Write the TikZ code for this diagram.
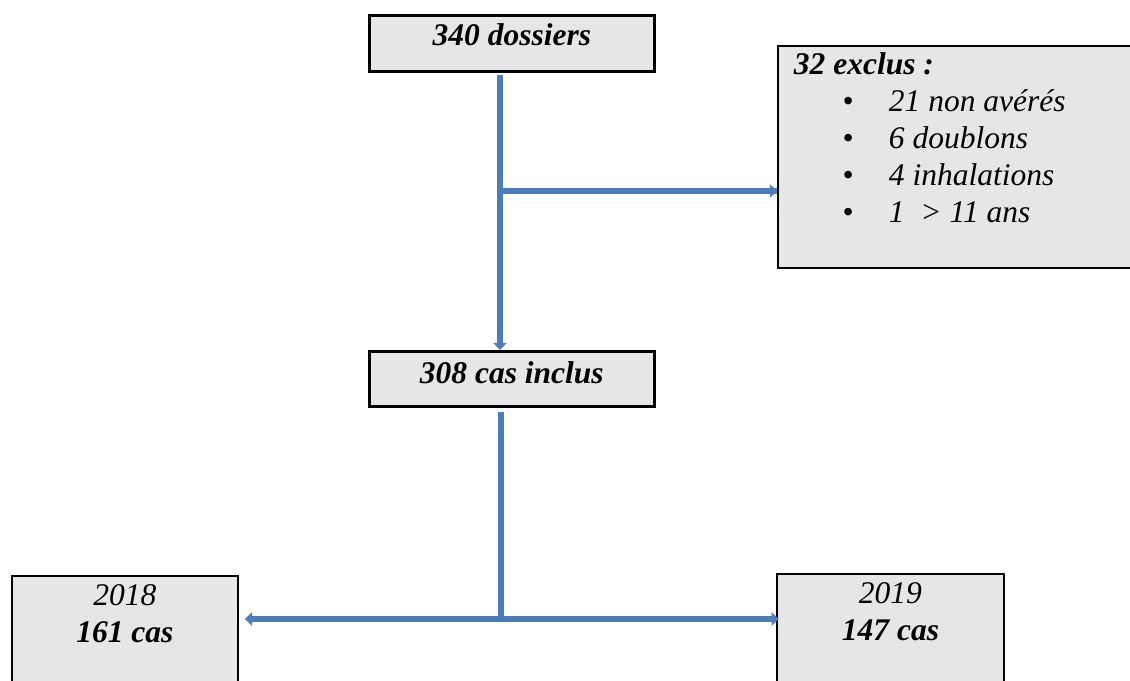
\documentclass[tikz,border=0pt]{standalone}
\usepackage{fontspec}
\setmainfont{Liberation Serif}
\usepackage{tikz}
\usetikzlibrary{arrows.meta, positioning}

\definecolor{flowblue}{RGB}{74,125,186}
\definecolor{boxgray}{RGB}{230,230,230}

\newcommand{\boxtext}[4]{\parbox[t][#1][t]{#2}{\rule{0pt}{#3}#4}}
\newcommand{\exclitem}[1]{\par\hspace*{1.61cm}\makebox[1.165cm][l]{\textbullet}#1}

\begin{document}
\begin{tikzpicture}[x=0.025cm, y=-0.025cm,
    box/.style={draw=black, fill=boxgray, line width=1.3pt, inner sep=0pt, anchor=north west,
      font=\fontsize{22.4pt}{26.2pt}\selectfont\itshape},
    mainbox/.style={box, line width=1.9pt},
    flow/.style={draw=flowblue, line width=0.17cm, -{Triangle[width=0.33cm, length=0.18cm]}}]
      \useasboundingbox (0,0) rectangle (1130,681);
      \node[mainbox] (dossiers) at (368,14)
        {\boxtext{1.4cm}{7.125cm}{0.75cm}{\centering\textbf{340 dossiers}}};
      \node[box] (exclus) at (777,45)
        {\boxtext{5.55cm}{8.95cm}{0.725cm}{\hspace*{0.4cm}\textbf{32 exclus :}
          \exclitem{21 non avérés}
          \exclitem{6 doublons}
          \exclitem{4 inhalations}
          \exclitem{1~~> 11 ans}}};
      \node[mainbox] (inclus) at (368,350)
        {\boxtext{1.375cm}{7.125cm}{0.8cm}{\centering\textbf{308 cas inclus}}};
      \node[box] (y2018) at (11,575)
        {\boxtext{3cm}{5.65cm}{0.75cm}{\centering 2018\\ \textbf{161 cas}}};
      \node[box] (y2019) at (776,573)
        {\boxtext{3cm}{5.675cm}{0.75cm}{\centering 2019\\ \textbf{147 cas}}};
      \coordinate (split1) at (500,191);
      \coordinate (split2) at (501,619);
      \draw[flow] ([yshift=-2pt]dossiers.south -| split1) -- (inclus.north -| split1);
      \draw[flow, -] (split1) -- (exclus.west |- split1);
      \draw[flow] (split1) -- (exclus.west |- split1);
      \draw[flow, -] ([yshift=-3pt]inclus.south -| split2) -- ([yshift=-0.08cm]split2);
      \draw[flow, shorten >=0.15cm] (split2) -- (y2018.east |- split2);
      \draw[flow, shorten >=-2pt] (split2) -- (y2019.west |- split2);
    \end{tikzpicture}
\end{document}
